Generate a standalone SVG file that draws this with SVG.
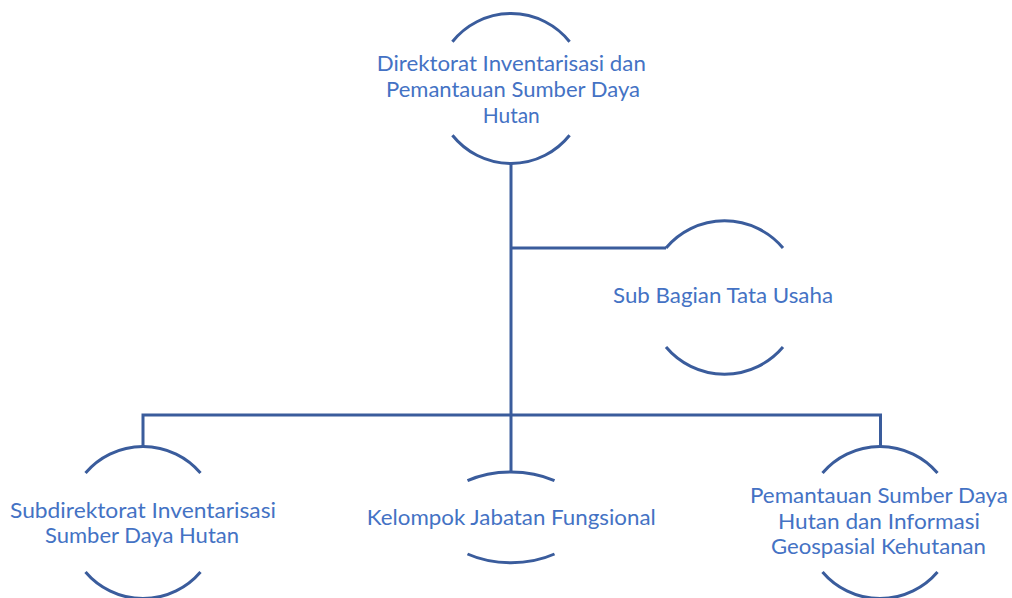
<svg xmlns="http://www.w3.org/2000/svg" width="1012" height="598" viewBox="0 0 1012 598">
<style>
.arc{fill:none;stroke:#3A5C9C;stroke-width:3}
.con{fill:none;stroke:#3A5C9C;stroke-width:3}
.t{font-family:Lato,"Open Sans","Liberation Sans",sans-serif;font-size:21px;fill:#4472C4;text-anchor:middle}
</style>
<rect width="1012" height="598" fill="#fff"/>
<g id="connectors">
<path class="con" d="M511,164 V415"/>
<path class="con" d="M511,248 H666"/>
<path class="con" d="M143,446.5 V415 H880.5 V446.5"/>
<path class="con" d="M511,415 V471.5"/>
</g>
<g id="node-direktorat">
<path class="arc" d="M452.4,41.7 A75,75 0 0 1 569.6,41.7"/>
<path class="arc" d="M452.4,135.3 A75,75 0 0 0 569.6,135.3"/>
<text class="t" x="511.3" y="71" textLength="269" lengthAdjust="spacingAndGlyphs">Direktorat Inventarisasi dan</text>
<text class="t" x="513" y="96.5" textLength="254" lengthAdjust="spacingAndGlyphs">Pemantauan Sumber Daya</text>
<text class="t" x="511.3" y="122.5" textLength="57" lengthAdjust="spacingAndGlyphs">Hutan</text>
</g>
<g id="node-subbagian">
<path class="arc" d="M666,248 A76.5,76.5 0 0 1 783,248"/>
<path class="arc" d="M666,347 A76.5,76.5 0 0 0 783,347"/>
<text class="t" x="723" y="303.3" textLength="220" lengthAdjust="spacingAndGlyphs">Sub Bagian Tata Usaha</text>
</g>
<g id="node-subdirektorat">
<path class="arc" d="M85.5,473 A75.5,75.5 0 0 1 200.5,473"/>
<path class="arc" d="M85.5,572 A75.5,75.5 0 0 0 200.5,572"/>
<text class="t" x="143" y="518.3" textLength="266" lengthAdjust="spacingAndGlyphs">Subdirektorat Inventarisasi</text>
<text class="t" x="142" y="543.3" textLength="194" lengthAdjust="spacingAndGlyphs">Sumber Daya Hutan</text>
</g>
<g id="node-kelompok">
<path class="arc" d="M467.5,480.7 A74,45.5 0 0 1 554.5,480.7"/>
<path class="arc" d="M467.5,554 A74,45.5 0 0 0 554.5,554"/>
<text class="t" x="511.3" y="525.3" textLength="289" lengthAdjust="spacingAndGlyphs">Kelompok Jabatan Fungsional</text>
</g>
<g id="node-pemantauan">
<path class="arc" d="M822.5,473 A75.5,75.5 0 0 1 937.5,473"/>
<path class="arc" d="M822.5,572 A75.5,75.5 0 0 0 937.5,572"/>
<text class="t" x="879" y="503.3" textLength="258" lengthAdjust="spacingAndGlyphs">Pemantauan Sumber Daya</text>
<text class="t" x="879" y="528.5" textLength="202" lengthAdjust="spacingAndGlyphs">Hutan dan Informasi</text>
<text class="t" x="878.4" y="553.5" textLength="215" lengthAdjust="spacingAndGlyphs">Geospasial Kehutanan</text>
</g>
</svg>
